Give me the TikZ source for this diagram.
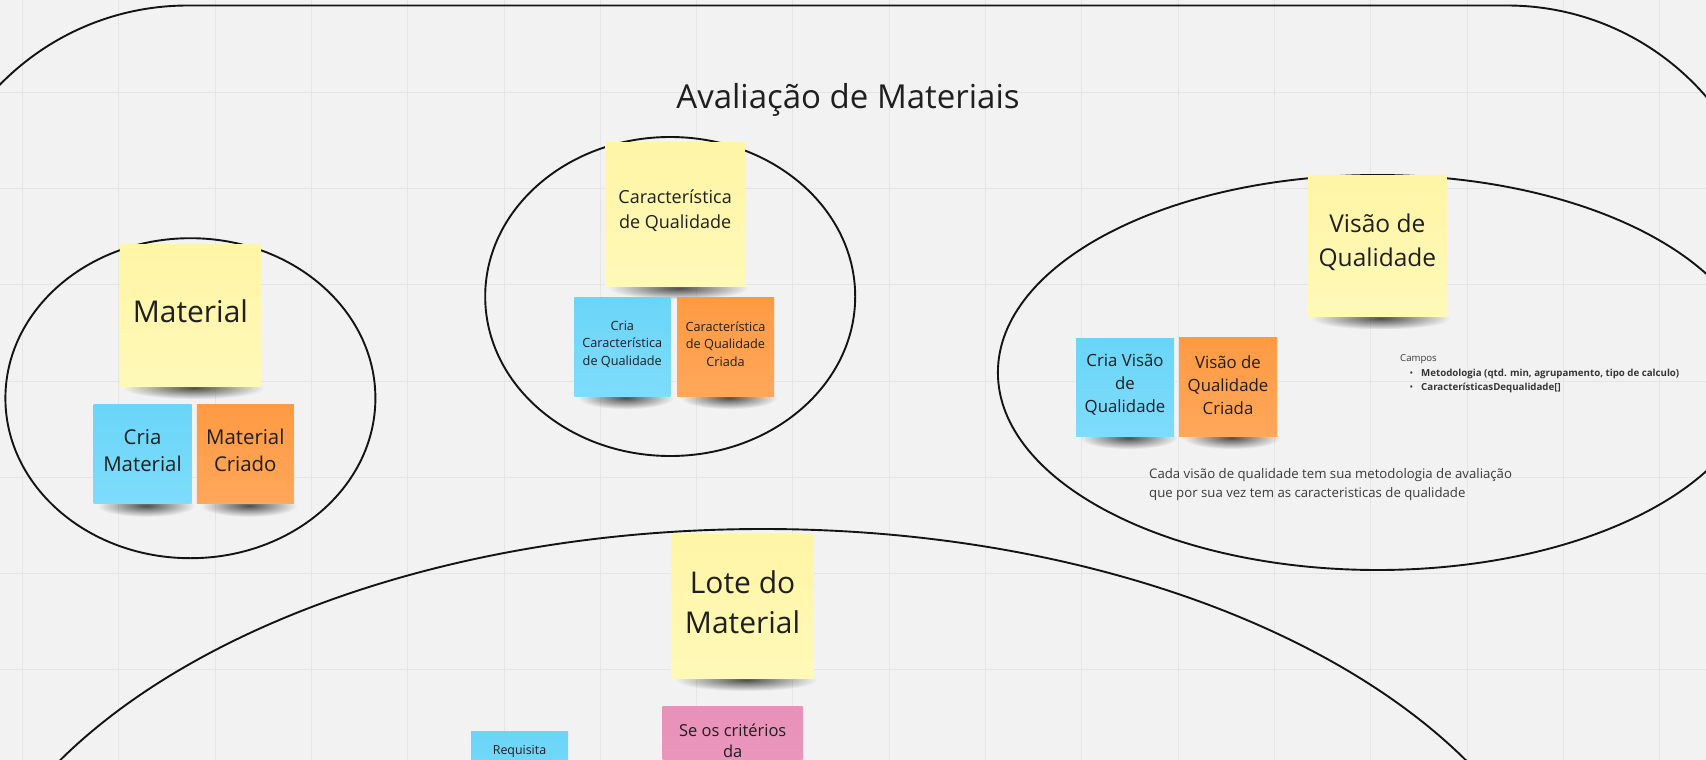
\documentclass[tikz,border=0pt]{standalone}
\usepackage{fontspec}
\setmainfont{Open Sans}
\usetikzlibrary{shapes.geometric,fadings,calc}
\definecolor{bg}{HTML}{F2F2F2}
\definecolor{gridc}{HTML}{E5E5E5}
\definecolor{yelA}{HTML}{FFF5A6}
\definecolor{yelB}{HTML}{FFF9B8}
\definecolor{bluA}{HTML}{6AD5F8}
\definecolor{bluB}{HTML}{7EDCFC}
\definecolor{orgA}{HTML}{FF9A43}
\definecolor{orgB}{HTML}{FFA75A}
\definecolor{pnkA}{HTML}{E891B9}
\definecolor{pnkB}{HTML}{EC9AC0}
\definecolor{tx}{HTML}{1F1F1F}
\definecolor{tgray}{HTML}{3A3A3A}
\newcommand\fsz[2]{\fontsize{#1}{#2}\selectfont}
\tikzfading[name=shfade, inner color=transparent!25, outer color=transparent!100]
\begin{document}
\begin{tikzpicture}[x=1pt,y=-1pt,
  ell/.style={shape=ellipse, draw=black!92, line width=1.9, inner sep=0, outer sep=0},
  note/.style={shape=rectangle, inner sep=0, outer sep=0},
  ynote/.style={note, top color=yelA, bottom color=yelB},
  bnote/.style={note, top color=bluA, bottom color=bluB},
  onote/.style={note, top color=orgA, bottom color=orgB},
  pnote/.style={note, top color=pnkA, bottom color=pnkB},
  txt/.style={text=tx, align=center, inner sep=0},
  ltxt/.style={text=tgray, align=left, inner sep=0, anchor=base west}]
\useasboundingbox (0,0) rectangle (1706,760);
\clip (0,0) rectangle (1706,760);
\fill[bg] (0,0) rectangle (1706,760);
\foreach \k in {-5,...,12} \draw[gridc, line width=1] ({504+96.3*\k},0) -- ({504+96.3*\k},760);
\foreach \k in {-3,...,4} \draw[gridc, line width=1] (0,{381+96.3*\k}) -- (1706,{381+96.3*\k});

% outer frame and groups
\node[draw=black!92, line width=1.9, rounded corners=263, inner sep=0, minimum width=1845, minimum height=1400] (outer) at (847.5,705.5) {};
\node[ell, minimum width=370, minimum height=320] (e1) at (190.4,398.2) {};
\node[ell, minimum width=370, minimum height=319] (e2) at (670.2,296.5) {};
\node[ell, minimum width=759, minimum height=395] (e3) at (1377.4,372.5) {};
\node[ell, minimum width=1620, minimum height=920] (e4) at (763,989) {};

\node[font=\fsz{33}{40}, text=tx, anchor=base, inner sep=0] (title) at (848,108) {Avaliação de Materiais};

% note positions (shadows first, then notes)
\coordinate (pmat) at (190.4,315);
\coordinate (pcriamat) at (142.5,454.2);
\coordinate (pmatcri) at (245.3,454.2);
\coordinate (pcar) at (675.1,214.3);
\coordinate (pcriacar) at (622.3,346.5);
\coordinate (pcarcri) at (725.5,346.5);
\coordinate (pvis) at (1377.4,245.9);
\coordinate (pcriavis) at (1125,387);
\coordinate (pviscri) at (1228,386.5);
\coordinate (plote) at (742.6,606);

\foreach \n/\hw/\hh in {mat/70.5/71,criamat/49/49.5,matcri/48.5/49.5,car/70/72,criacar/48/49.5,carcri/48.5/49.5,vis/69.5/70.5,criavis/49/49,viscri/49/49.5,lote/71/72}
  \fill[black!90, path fading=shfade] ($(p\n)+({-\hw+4},{\hh-9})$) rectangle ($(p\n)+({\hw+3},{\hh+13})$);

\node[ynote, minimum width=141, minimum height=142] (mat) at (pmat) {};
\node[bnote, minimum width=98, minimum height=99] (criamat) at (pcriamat) {};
\node[onote, minimum width=97, minimum height=99] (matcri) at (pmatcri) {};
\node[ynote, minimum width=140, minimum height=144] (car) at (pcar) {};
\node[bnote, minimum width=96, minimum height=99] (criacar) at (pcriacar) {};
\node[onote, minimum width=97, minimum height=99] (carcri) at (pcarcri) {};
\node[ynote, minimum width=139, minimum height=141] (vis) at (pvis) {};
\node[bnote, minimum width=98, minimum height=98] (criavis) at (pcriavis) {};
\node[onote, minimum width=98, minimum height=99] (viscri) at (pviscri) {};
\node[ynote, minimum width=142, minimum height=144] (lote) at (plote) {};
\node[pnote, minimum width=140, minimum height=107] (crit) at (732.7,760) {};
\node[bnote, minimum width=97, minimum height=97] (req) at (519.5,780) {};

% note texts
\node[txt, font=\fsz{30}{41}] (tmat) at (190.4,311) {Material};
\node[txt, font=\fsz{20.4}{27.3}] (tcriamat) at (142.5,450.3) {Cria\\Material};
\node[txt, font=\fsz{20.4}{27.3}] (tmatcri) at (245.3,450.3) {Material\\Criado};
\node[txt, font=\fsz{18}{25}] (tcar) at (675.1,210.5) {Característica\\de Qualidade};
\node[txt, font=\fsz{12.7}{17.5}] (tcriacar) at (622.3,344) {Cria\\Característica\\de Qualidade};
\node[txt, font=\fsz{12.7}{17.5}] (tcarcri) at (725.5,344) {Característica\\de Qualidade\\Criada};
\node[txt, font=\fsz{24.5}{34}] (tvis) at (1377.4,242) {Visão de\\Qualidade};
\node[txt, font=\fsz{16.8}{23}] (tcriavis) at (1125,384.7) {Cria Visão\\de\\Qualidade};
\node[txt, font=\fsz{16.8}{23}] (tviscri) at (1228,384.7) {Visão de\\Qualidade\\Criada};
\node[txt, font=\fsz{30}{40.3}] (tlote) at (742.6,602) {Lote do\\Material};
\node[txt, font=\fsz{16.5}{20.7}] (tcrit) at (732.7,740.5) {Se os critérios\\da};
\node[txt, font=\fsz{12.4}{17}] (treq) at (519.5,751.7) {Requisita};

% free texts
\node[ltxt, font=\fsz{9.6}{12}] (campos) at (1400,361.3) {Campos};
\node[ltxt, font=\fsz{9.6}{12}] (b1) at (1409.5,376.7) {•};
\node[ltxt, font=\fsz{9.7}{12}\bfseries, text=tx!90] (f1) at (1421,376.7) {Metodologia (qtd. min, agrupamento, tipo de calculo)};
\node[ltxt, font=\fsz{9.6}{12}] (b2) at (1409.5,390.1) {•};
\node[ltxt, font=\fsz{9.7}{12}\bfseries, text=tx!90] (f2) at (1421,390.1) {CaracterísticasDequalidade[]};
\node[ltxt, font=\fsz{13.2}{18.7}] (c1) at (1149,478.8) {Cada visão de qualidade tem sua metodologia de avaliação};
\node[ltxt, font=\fsz{13.2}{18.7}] (c2) at (1149,497.5) {que por sua vez tem as caracteristicas de qualidade};
\end{tikzpicture}
\end{document}
